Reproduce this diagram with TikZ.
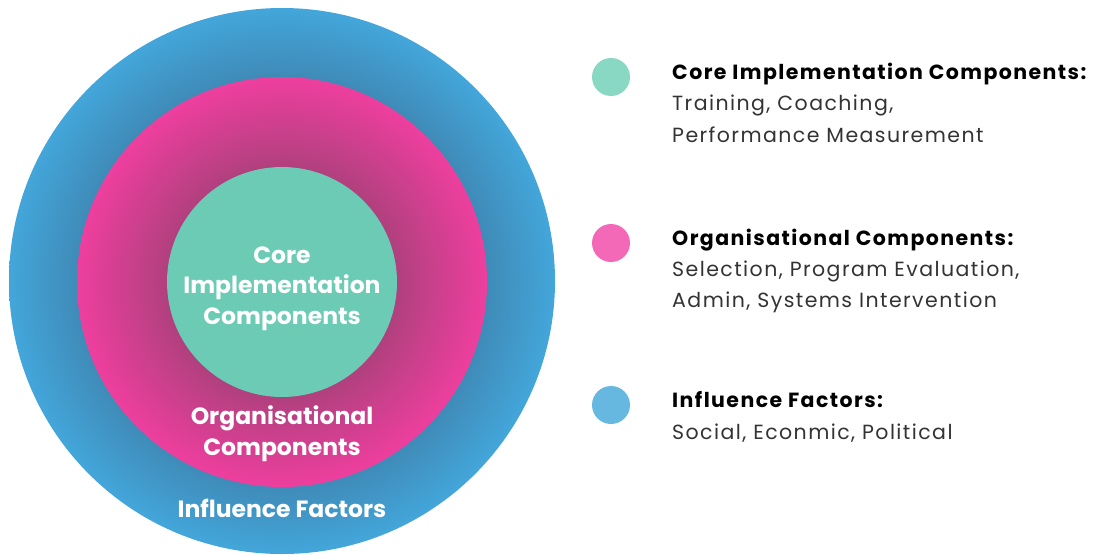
\documentclass[tikz,border=0pt]{standalone}
\usepackage{fontspec}
\setmainfont{Poppins}
\newfontfamily\legfont[LetterSpace=7]{Poppins}
\definecolor{bLight}{HTML}{43A6DA}
\definecolor{bDark}{HTML}{3F8BB8}
\definecolor{pLight}{HTML}{EE3F9E}
\definecolor{pDark}{HTML}{B0407E}
\definecolor{gFill}{HTML}{6BCBB5}
\definecolor{legG}{HTML}{88D8C4}
\definecolor{legP}{HTML}{F468B8}
\definecolor{legB}{HTML}{66B8E0}
\definecolor{txt}{HTML}{333333}
\pgfdeclareradialshading{blueRing}{\pgfpoint{0bp}{0bp}}{color(0bp)=(bDark); color(18.8bp)=(bDark); color(25bp)=(bLight); color(50bp)=(bLight)}
\pgfdeclareradialshading{pinkRing}{\pgfpoint{0bp}{0bp}}{color(0bp)=(pDark); color(14bp)=(pDark); color(25bp)=(pLight); color(50bp)=(pLight)}
\begin{document}
\begin{tikzpicture}[x=1pt,y=-1pt,
  intext/.style={text=white,font=\fontsize{23.5}{26}\selectfont\bfseries,inner sep=0pt,anchor=center},
  head/.style={text=black,font=\legfont\fontsize{20.5}{22}\selectfont\bfseries,inner sep=0pt,anchor=base west},
  body/.style={text=txt,font=\legfont\fontsize{20.5}{22}\selectfont,inner sep=0pt,anchor=base west},
  dot/.style={circle,minimum size=38pt,inner sep=0pt}]
\useasboundingbox (0,0) rectangle (1102,554);
\shade[shading=blueRing] (282,281) circle (273);
\shade[shading=pinkRing] (282,282) circle (205);
\fill[gFill] (282,282) circle (115);
\node[intext] (c1) at (282,255) {Core};
\node[intext] (c2) at (282,287) {Implementation};
\node[intext] (c3) at (282,319) {Components};
\node[intext] (o1) at (282,418) {Organisational};
\node[intext] (o2) at (282,450) {Components};
\node[intext] (i1) at (282,508) {Influence Factors};
\node[dot,fill=legG] (lg) at (611,77) {};
\node[dot,fill=legP] (lp) at (611,243) {};
\node[dot,fill=legB] (lb) at (611,405) {};
\node[head] (h1) at (672,79) {Core Implementation Components:};
\node[body] (b11) at (672,110) {Training, Coaching,};
\node[body] (b12) at (672,142) {Performance Measurement};
\node[head] (h2) at (672,245) {Organisational Components:};
\node[body] (b21) at (672,276) {Selection, Program Evaluation,};
\node[body] (b22) at (672,307) {Admin, Systems Intervention};
\node[head] (h3) at (672,407) {Influence Factors:};
\node[body] (b31) at (672,439) {Social, Econmic, Political};
\end{tikzpicture}
\end{document}
